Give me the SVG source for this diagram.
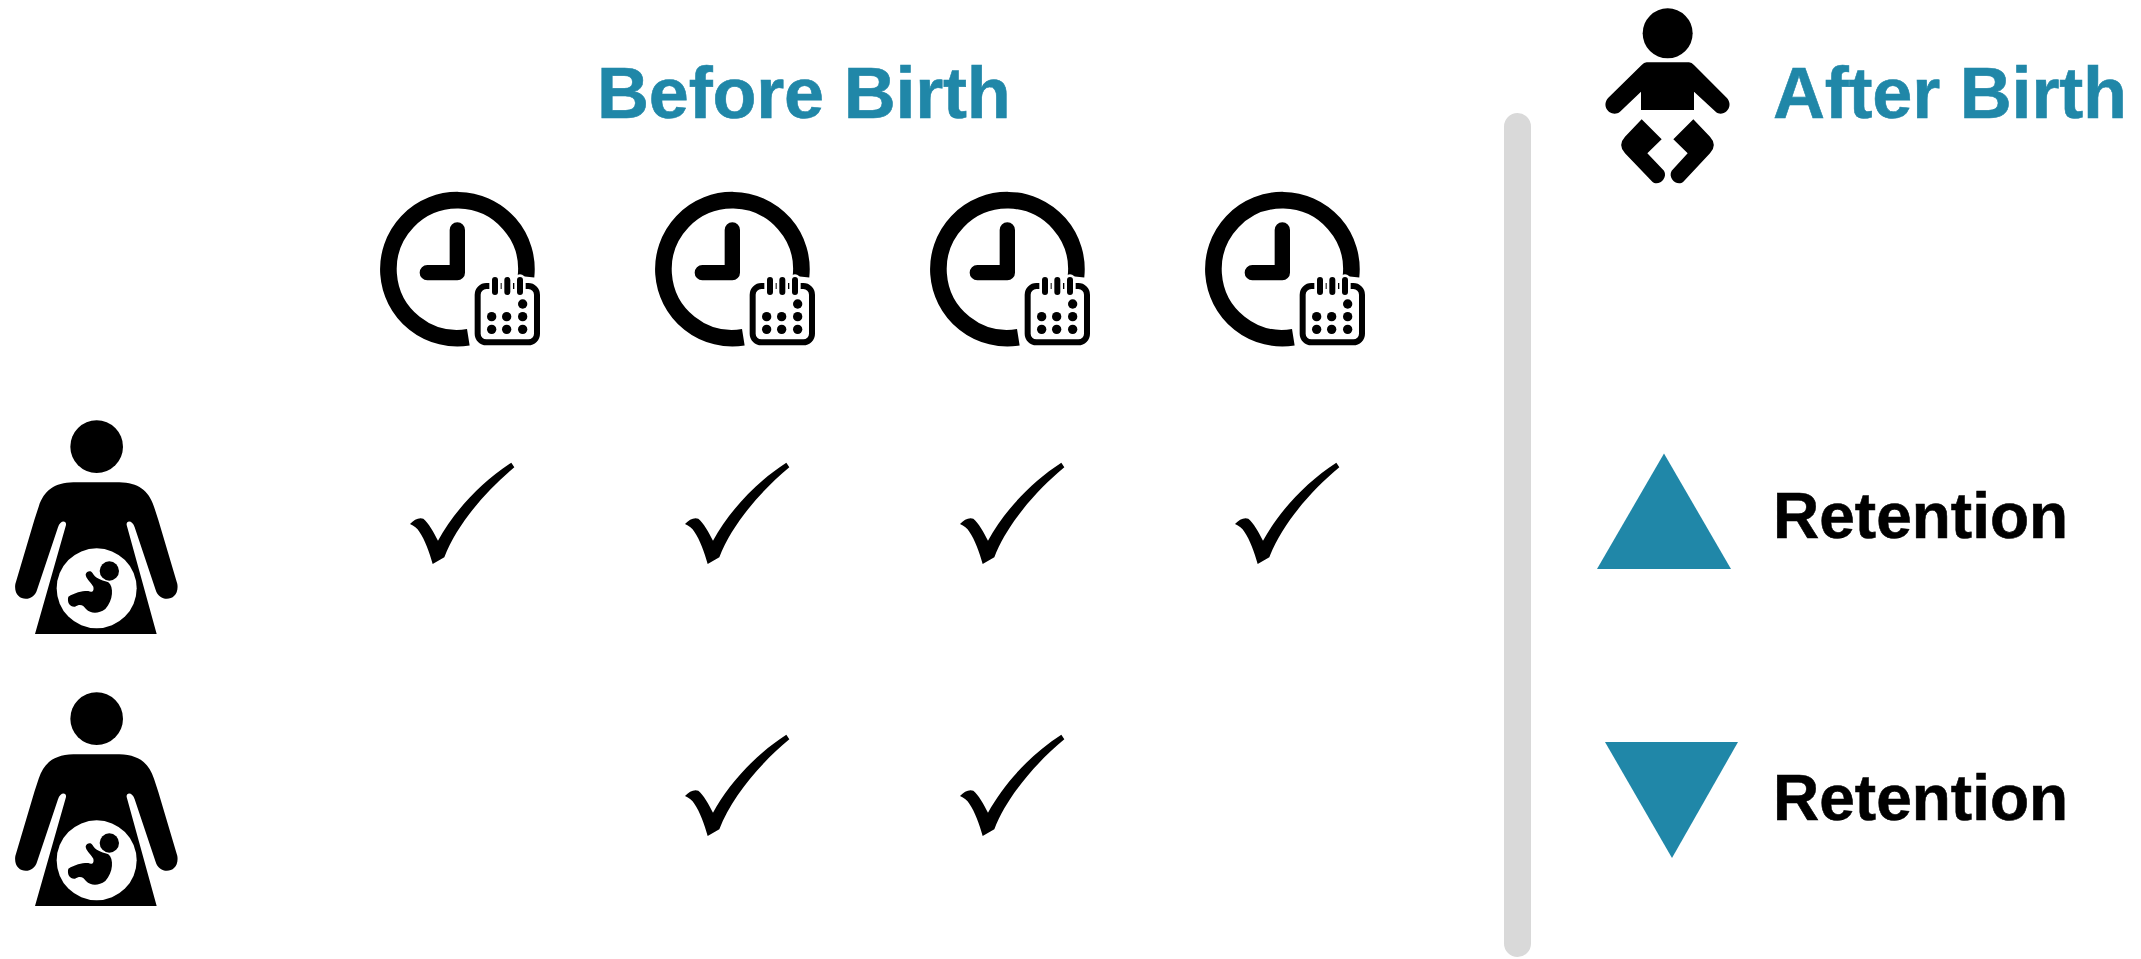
<svg xmlns="http://www.w3.org/2000/svg" width="2141" height="959" viewBox="0 0 2141 959">
<style>
.t{font-family:"Liberation Sans",Arial,sans-serif;font-weight:700;font-size:72px;letter-spacing:-.2px;stroke-width:.6px}
.r{font-size:64px;letter-spacing:0}
.h{fill:#2087a8;stroke:#2087a8}
.k{fill:#000;stroke:#000}
.tri{fill:#2087a8}
</style>
<defs>
<g id="mother" transform="scale(.33333)">
<circle cx="290" cy="110" r="79"/>
<path d="M220 217H358C415 219 445 240 462 290L475 330L532 522C540 575 478 580 467 540L404 352C398 330 378 330 380 345L470 672H105L198 345C200 330 180 330 174 352L111 540C100 580 38 575 46 522L103 330L116 290C133 240 163 219 220 217Z"/>
<circle cx="290" cy="535" r="120" fill="#fff"/>
<circle cx="328" cy="483" r="29"/>
<path d="M257 493C260 483 273 480 278 490C285 503 300 510 325 517C342 530 340 572 316 597C295 612 273 612 258 597C250 585 240 580 225 590C211 592 200 578 205 560C225 547 250 542 265 543C275 548 283 545 280 530C270 515 257 505 257 493Z"/>
</g>
<g id="clock" transform="scale(.33333)">
<path d="M468 290A207 207 0 1 0 295 472" fill="none" stroke="#000" stroke-width="50"/>
<path d="M262 150V278H172" fill="none" stroke="#000" stroke-width="46" stroke-linecap="round" stroke-linejoin="round"/>
<rect x="323" y="318" width="178" height="169" rx="26" fill="#fff" stroke="#000" stroke-width="18"/>
<path d="M375 300V338M412 300V338M450 300V338" stroke="#fff" stroke-width="34" stroke-linecap="round"/>
<path d="M375 300V336M412 300V336M450 300V336" stroke="#000" stroke-width="18" stroke-linecap="round"/>
<circle cx="458" cy="372" r="14"/><circle cx="365" cy="410" r="14"/><circle cx="410" cy="410" r="14"/><circle cx="458" cy="410" r="14"/><circle cx="365" cy="448" r="14"/><circle cx="410" cy="448" r="14"/><circle cx="458" cy="448" r="14"/>
</g>
<path id="check" transform="scale(.33333)" d="M60 222C72 208 88 201 100 206C115 218 132 248 144 272C190 188 270 98 364 38L373 52C285 125 200 225 163 322L128 342C118 305 105 270 88 245C82 235 72 228 60 222Z"/>
</defs>
<g id="connectors"/>
<rect id="divider" x="1504" y="113" width="27" height="844" rx="13.5" fill="#d9d9d9"/>
<text class="t h" x="597" y="117.5">Before Birth</text>
<text class="t h" x="1773" y="117.5">After Birth</text>
<text class="t k r" x="1773" y="537.5">Retention</text>
<text class="t k r" x="1773" y="820">Retention</text>
<g id="mother1" transform="translate(0,410)"><use href="#mother"/></g>
<g id="mother2" transform="translate(0,682)"><use href="#mother"/></g>
<g id="clock1" transform="translate(370,180)"><use href="#clock"/></g>
<g id="clock2" transform="translate(645,180)"><use href="#clock"/></g>
<g id="clock3" transform="translate(920,180)"><use href="#clock"/></g>
<g id="clock4" transform="translate(1195,180)"><use href="#clock"/></g>
<g id="check11" transform="translate(390,450)"><use href="#check"/></g>
<g id="check12" transform="translate(665,450)"><use href="#check"/></g>
<g id="check13" transform="translate(940,450)"><use href="#check"/></g>
<g id="check14" transform="translate(1215,450)"><use href="#check"/></g>
<g id="check22" transform="translate(665,722)"><use href="#check"/></g>
<g id="check23" transform="translate(940,722)"><use href="#check"/></g>
<g id="baby" transform="translate(1590,0) scale(.33333)">
<circle cx="233" cy="100" r="75"/>
<path d="M170 187H297Q305 187 312 195L410 293C435 320 400 355 377 335L312 275V330H153V275L90 335C65 355 30 320 55 293L155 195Q162 187 170 187Z"/>
<path d="M155 358L215 418L172 460L222 512C235 535 205 560 187 545L105 460Q82 435 105 410Z"/>
<path d="M310 358L250 418L293 460L245 512C232 535 262 560 280 545L360 460Q383 435 360 410Z"/>
</g>
<polygon id="up" class="tri" points="1664,453.5 1597,569 1731,569"/>
<polygon id="down" class="tri" points="1605,742 1738,742 1672,858"/>
</svg>
